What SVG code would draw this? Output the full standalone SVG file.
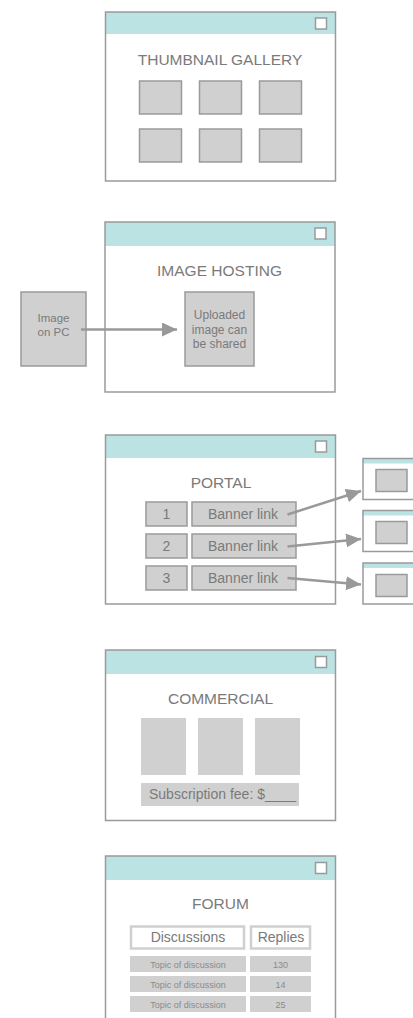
<svg xmlns="http://www.w3.org/2000/svg" width="413" height="1018" viewBox="0 0 413 1018">
<style>
.win{fill:none;stroke:#9a9a9a;stroke-width:1.5}
.bg{fill:#ffffff}
.hdr{fill:#bce3e3}
.chk{fill:#ffffff;stroke:#9a9a9a;stroke-width:1.5}
.box{fill:#d0d0d0;stroke:#9a9a9a;stroke-width:1.5}
.flat{fill:#d0d0d0}
.hbox{fill:#ffffff;stroke:#d0d0d0;stroke-width:2.5}
text{font-family:"Liberation Sans",Arial,sans-serif;fill:#7a7a7a;text-anchor:middle}
.title{font-size:15.5px}
.lbl{font-size:14px}
.small{font-size:9px;fill:#8a8a8a}
.conn{fill:none;stroke:#999999;stroke-width:2.5}
</style>
<defs>
<marker id="ah" markerUnits="userSpaceOnUse" markerWidth="16" markerHeight="14" refX="15" refY="7" orient="auto">
<path d="M0,0 L15,7 L0,14 Z" fill="#999999"/>
</marker>
</defs>

<g id="thumbnail-gallery">
<rect class="bg" x="105.5" y="12" width="230" height="169"/>
<rect class="hdr" x="105.5" y="12" width="230" height="22"/>
<rect class="win" x="105.5" y="12" width="230" height="169"/>
<rect class="chk" x="315.5" y="18" width="11" height="11"/>
<text class="title" x="220" y="65">THUMBNAIL GALLERY</text>
<rect class="box" x="139.5" y="81" width="42" height="33"/>
<rect class="box" x="199.5" y="81" width="42" height="33"/>
<rect class="box" x="259.5" y="81" width="42" height="33"/>
<rect class="box" x="139.5" y="129" width="42" height="33"/>
<rect class="box" x="199.5" y="129" width="42" height="33"/>
<rect class="box" x="259.5" y="129" width="42" height="33"/>
</g>

<g id="image-hosting">
<rect class="bg" x="105" y="222" width="230" height="170"/>
<rect class="hdr" x="105" y="222" width="230" height="24"/>
<rect class="win" x="105" y="222" width="230" height="170"/>
<rect class="chk" x="315" y="228" width="11" height="11"/>
<text class="title" x="219.5" y="276">IMAGE HOSTING</text>
</g>

<g id="uploaded-image">
<rect class="box" x="185" y="292" width="69" height="74"/>
<text style="font-size:12px" x="219.5" y="319">Uploaded</text>
<text style="font-size:12px" x="219.5" y="334">image can</text>
<text style="font-size:12px" x="219.5" y="348">be shared</text>
</g>

<g id="image-on-pc">
<rect class="box" x="21" y="292" width="65" height="74"/>
<text style="font-size:11.5px" x="53.5" y="322">Image</text>
<text style="font-size:11.5px" x="53.5" y="336">on PC</text>
</g>

<g id="portal">
<rect class="bg" x="105.5" y="435" width="230" height="169"/>
<rect class="hdr" x="105.5" y="435" width="230" height="23"/>
<rect class="win" x="105.5" y="435" width="230" height="169"/>
<rect class="chk" x="315.5" y="441" width="11" height="11"/>
<text class="title" x="221" y="488">PORTAL</text>
<rect class="box" x="146" y="502" width="41" height="24"/>
<rect class="box" x="192" y="502" width="104" height="24"/>
<text class="lbl" x="166.5" y="519">1</text>
<text class="lbl" x="243" y="519">Banner link</text>
<rect class="box" x="146" y="534" width="41" height="24"/>
<rect class="box" x="192" y="534" width="104" height="24"/>
<text class="lbl" x="166.5" y="551">2</text>
<text class="lbl" x="243" y="551">Banner link</text>
<rect class="box" x="146" y="566" width="41" height="24"/>
<rect class="box" x="192" y="566" width="104" height="24"/>
<text class="lbl" x="166.5" y="583">3</text>
<text class="lbl" x="243" y="583">Banner link</text>
</g>

<g id="target-1">
<rect class="bg" x="363" y="458.5" width="60" height="41"/>
<rect class="hdr" x="363" y="458.5" width="60" height="5"/>
<rect class="win" x="363" y="458.5" width="60" height="41"/>
<rect class="box" x="376" y="469.5" width="31" height="22"/>
</g>
<g id="target-2">
<rect class="bg" x="363" y="510.5" width="60" height="41"/>
<rect class="hdr" x="363" y="510.5" width="60" height="5"/>
<rect class="win" x="363" y="510.5" width="60" height="41"/>
<rect class="box" x="376" y="521.5" width="31" height="22"/>
</g>
<g id="target-3">
<rect class="bg" x="363" y="563" width="60" height="41"/>
<rect class="hdr" x="363" y="563" width="60" height="5"/>
<rect class="win" x="363" y="563" width="60" height="41"/>
<rect class="box" x="376" y="574.5" width="31" height="22"/>
</g>

<g id="commercial">
<rect class="bg" x="105.5" y="650" width="230" height="170.5"/>
<rect class="hdr" x="105.5" y="650" width="230" height="24"/>
<rect class="win" x="105.5" y="650" width="230" height="170.5"/>
<rect class="chk" x="315.5" y="656.5" width="11" height="11"/>
<text class="title" x="220.5" y="704">COMMERCIAL</text>
<rect class="flat" x="141" y="718" width="45" height="57"/>
<rect class="flat" x="198" y="718" width="45" height="57"/>
<rect class="flat" x="255" y="718" width="45" height="57"/>
<rect class="flat" x="141" y="783" width="158" height="23"/>
<text class="lbl" x="149" y="799" style="text-anchor:start">Subscription fee: $____</text>
</g>

<g id="forum">
<rect class="bg" x="105.5" y="856" width="230" height="180"/>
<rect class="hdr" x="105.5" y="856" width="230" height="24"/>
<rect class="win" x="105.5" y="856" width="230" height="180"/>
<rect class="chk" x="315.5" y="862.5" width="11" height="11"/>
<text class="title" x="220.5" y="909">FORUM</text>
<rect class="hbox" x="131" y="926.5" width="113" height="22"/>
<rect class="hbox" x="251" y="926.5" width="59" height="22"/>
<text class="lbl" x="188" y="942">Discussions</text>
<text class="lbl" x="281" y="942">Replies</text>
<rect class="flat" x="130" y="956" width="116" height="16"/>
<rect class="flat" x="250" y="956" width="61" height="16"/>
<text class="small" x="188" y="967.5">Topic of discussion</text>
<text class="small" x="280.5" y="967.5">130</text>
<rect class="flat" x="130" y="976" width="116" height="16"/>
<rect class="flat" x="250" y="976" width="61" height="16"/>
<text class="small" x="188" y="987.5">Topic of discussion</text>
<text class="small" x="280.5" y="987.5">14</text>
<rect class="flat" x="130" y="996" width="116" height="16"/>
<rect class="flat" x="250" y="996" width="61" height="16"/>
<text class="small" x="188" y="1007.5">Topic of discussion</text>
<text class="small" x="280.5" y="1007.5">25</text>
</g>

<g id="connectors">
<line class="conn" x1="81" y1="329.5" x2="177" y2="329.5" marker-end="url(#ah)"/>
<line class="conn" x1="287.5" y1="514.5" x2="361" y2="491" marker-end="url(#ah)"/>
<line class="conn" x1="287.5" y1="546.5" x2="361" y2="539" marker-end="url(#ah)"/>
<line class="conn" x1="287.5" y1="578" x2="361" y2="584.5" marker-end="url(#ah)"/>
</g>
</svg>
